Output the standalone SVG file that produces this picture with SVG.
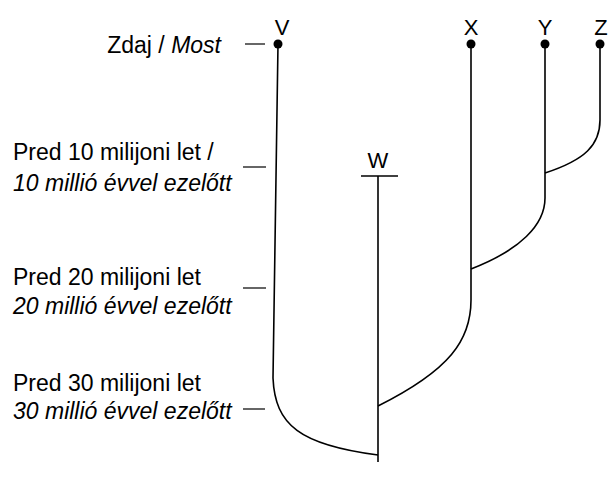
<svg xmlns="http://www.w3.org/2000/svg" width="608" height="491" viewBox="0 0 608 491">
<style>
text{font-family:"Liberation Sans",Arial,sans-serif;font-size:23px;fill:#000}
.lbl{font-size:22px;text-anchor:middle}
.it{font-style:italic}
.ln{fill:none;stroke:#000;stroke-width:1.6}
.tick{stroke:#000;stroke-width:1.2}
</style>
<rect width="608" height="491" fill="#fff"/>
<g id="timescale">
<text x="221" y="53" text-anchor="end">Zdaj / <tspan class="it">Most</tspan></text>
<line class="tick" x1="245" y1="44" x2="265" y2="44"/>
<text x="13" y="160">Pred 10 milijoni let /</text>
<text x="13" y="191" class="it">10 millió évvel ezelőtt</text>
<line class="tick" x1="243" y1="167" x2="266" y2="167"/>
<text x="13" y="285">Pred 20 milijoni let</text>
<text x="13" y="314" class="it">20 millió évvel ezelőtt</text>
<line class="tick" x1="243" y1="288" x2="266" y2="288"/>
<text x="13" y="391">Pred 30 milijoni let</text>
<text x="13" y="419" class="it">30 millió évvel ezelőtt</text>
<line class="tick" x1="243" y1="409" x2="265" y2="409"/>
</g>
<g id="connectors">
<path class="ln" d="M278,44 L273,378 C275,425 300,445 378,455"/>
<path class="ln" d="M471,44 L471,300 C471,340 450,370 378,406"/>
<path class="ln" d="M545,44 L545,198 C545,225 520,250 471,269"/>
<path class="ln" d="M600,44 L600,120 C600,145 585,160 545,173"/>
<path class="ln" d="M378,176 L378,462"/>
</g>
<g id="node-V"><text class="lbl" x="282" y="35">V</text><circle cx="278" cy="44" r="4.5"/></g>
<g id="node-X"><text class="lbl" x="471" y="35">X</text><circle cx="471" cy="44" r="4.5"/></g>
<g id="node-Y"><text class="lbl" x="545" y="35">Y</text><circle cx="545" cy="44" r="4.5"/></g>
<g id="node-Z"><text class="lbl" x="601" y="35">Z</text><circle cx="600" cy="44" r="4.5"/></g>
<g id="node-W"><text class="lbl" x="378" y="168">W</text><line class="ln" x1="361" y1="176" x2="398" y2="176"/></g>
</svg>
